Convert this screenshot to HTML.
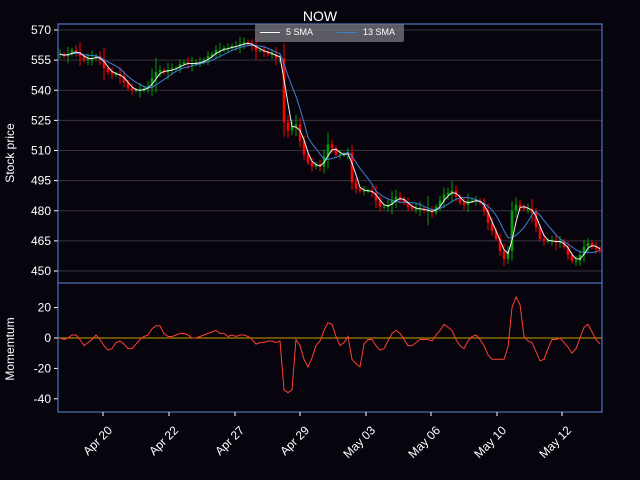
<!DOCTYPE html>
<html><head><meta charset="utf-8"><style>
body{margin:0;background:#07040d;}
svg{display:block;font-family:"Liberation Sans",sans-serif;}
</style></head><body>
<svg id="c" width="640" height="480"></svg>
<script>
const closes=[558,557,558,560,559,557,555,556,556,557,555,551,549,548,548,547,544,541,540,540,540,541,542,546,549,550,549,550,551,551,553,554,553,553,554,554,555,557,558,560,560,561,561,562,562,563,564,563,562,560,560,559,558,558,556,556,524,520,522,523,515,508,504,502,503,502,507,513,511,508,508,508,509,494,491,490,490,490,489,485,482,482,483,485,487,486,484,482,481,481,481,480,480,479,482,485,488,489,490,487,484,483,485,485,485,484,480,474,470,466,460,456,460,480,483,482,481,481,479,472,466,465,465,465,464,465,462,458,455,455,458,462,464,462,461,460];
const wicks=[2,1,3,1,2,4,1,2,3,1,2,5,1,2,1,3,2,1,2,1,3,1,2,4,6,2,1,3,2,1,2,1,2,3,1,2,1,2,1,2,3,1,2,1,2,3,2,1,2,4,1,2,1,2,3,2,6,3,2,4,3,2,1,2,1,2,3,5,2,1,2,1,2,3,2,1,2,1,2,3,2,1,2,4,3,2,1,2,1,2,3,1,6,2,1,2,3,2,4,2,1,2,3,1,2,1,2,3,2,1,2,3,2,4,3,2,1,2,4,2,1,2,1,2,3,2,1,2,1,2,2,3,2,1,2,1];
const priceTicks=[450,465,480,495,510,525,540,555,570];
const momTicks=[-40,-20,0,20];
const xTickLabels=["Apr 20","Apr 22","Apr 27","Apr 29","May 03","May 06","May 10","May 12"];
const xTickIdx=[10.75,27.25,43.75,60,76.5,92.75,109.25,125.5];
const momLag=3;
const fastWin=3, slowWin=7;

const svg=document.getElementById('c');const NS='http://www.w3.org/2000/svg';
function mk(t,a,p){const e=document.createElementNS(NS,t);for(const k in a)e.setAttribute(k,a[k]);(p||svg).appendChild(e);return e;}
const L=58,R=602,T1=24,B1=283,B2=412;
const xs=i=>60+i*(540/(closes.length-1));
const yp=v=>30+(570-v)*(241/120);
const ym=v=>338-v*1.52;
mk('rect',{x:0,y:0,width:640,height:480,fill:'#07040d'});
priceTicks.forEach(v=>{
  const g=mk('line',{x1:L,x2:R,y1:yp(v),y2:yp(v),stroke:'#3a3440','stroke-width':1});
  
  mk('line',{x1:L-4,x2:L,y1:yp(v),y2:yp(v),stroke:'#fff'});
  const t=mk('text',{x:L-7,y:yp(v)+4,'text-anchor':'end','font-size':12,fill:'#fff'});t.textContent=v;
  
});
momTicks.forEach(v=>{
  mk('line',{x1:L-4,x2:L,y1:ym(v),y2:ym(v),stroke:'#fff'});
  const t=mk('text',{x:L-7,y:ym(v)+4,'text-anchor':'end','font-size':12,fill:'#fff'});t.textContent=v;
  
});
closes.forEach((c,i)=>{
  const o=i>0?closes[i-1]:c;const hi=Math.max(o,c)+wicks[i]*1.2,lo=Math.min(o,c)-wicks[i]*1.2;
  const col=c>=o?'#00a000':'#ff0000';const x=xs(i);
  const w=mk('line',{x1:x,x2:x,y1:yp(hi),y2:yp(lo),stroke:col,'stroke-width':1});
  
  const b=mk('rect',{x:x-1.3,y:yp(Math.max(o,c)),width:2.6,height:Math.max(1,Math.abs(yp(o)-yp(c))),fill:col});
  
});
function sma(n){return closes.map((c,i)=>{const s=closes.slice(Math.max(0,i-n+1),i+1);return s.reduce((a,b)=>a+b,0)/s.length;});}
function path(arr,fy){return arr.map((v,i)=>(i?'L':'M')+xs(i).toFixed(1)+' '+fy(v).toFixed(1)).join(' ');}
const p13=mk('path',{d:path(sma(slowWin),yp),fill:'none',stroke:'#3a82d8','stroke-width':1});

const p5=mk('path',{d:path(sma(fastWin),yp),fill:'none',stroke:'#f0f0f0','stroke-width':1});

const mom=closes.map((c,i)=>c-closes[Math.max(0,i-momLag)]);
mk('line',{x1:L,x2:R,y1:ym(0),y2:ym(0),stroke:'#c8a000','stroke-width':1});
const pm=mk('path',{d:path(mom,ym),fill:'none',stroke:'#ff4030','stroke-width':1});

mk('rect',{x:L,y:T1,width:R-L,height:B1-T1,fill:'none',stroke:'#5a8ce0'});
mk('rect',{x:L,y:B1,width:R-L,height:B2-B1,fill:'none',stroke:'#5a8ce0'});
xTickIdx.forEach((ix,k)=>{
  const x=xs(ix);mk('line',{x1:x,x2:x,y1:B2,y2:B2+4,stroke:'#fff'});
  const ax=x+10, ay=B2+19;
  const t=mk('text',{x:ax,y:ay,'text-anchor':'end','font-size':12,fill:'#fff',transform:`rotate(-45 ${ax} ${ay})`});t.textContent=xTickLabels[k];
  
});
</script>
<div style="position:absolute;left:0;top:0;width:640px;height:480px;pointer-events:none;font-family:'Liberation Sans',sans-serif;color:#fff;">
<div style="position:absolute;left:0;width:640px;top:8px;text-align:center;font-size:14px;">NOW</div>
<div style="position:absolute;left:-30px;top:146px;width:80px;text-align:center;font-size:12px;transform:rotate(-90deg);">Stock price</div>
<div style="position:absolute;left:-30px;top:342px;width:80px;text-align:center;font-size:12px;transform:rotate(-90deg);">Momemtum</div>
<div style="position:absolute;left:255px;top:24px;width:149px;height:18px;background:rgba(120,120,130,0.75);border-radius:2px;font-size:9px;">
<span style="position:absolute;left:5px;top:3px;"><span style="display:inline-block;width:20px;border-top:1px solid #fff;vertical-align:middle;margin-right:6px;"></span>5 SMA</span>
<span style="position:absolute;left:82px;top:3px;"><span style="display:inline-block;width:20px;border-top:1px solid #3a82d8;vertical-align:middle;margin-right:6px;"></span>13 SMA</span>
</div></div>
</body></html>
